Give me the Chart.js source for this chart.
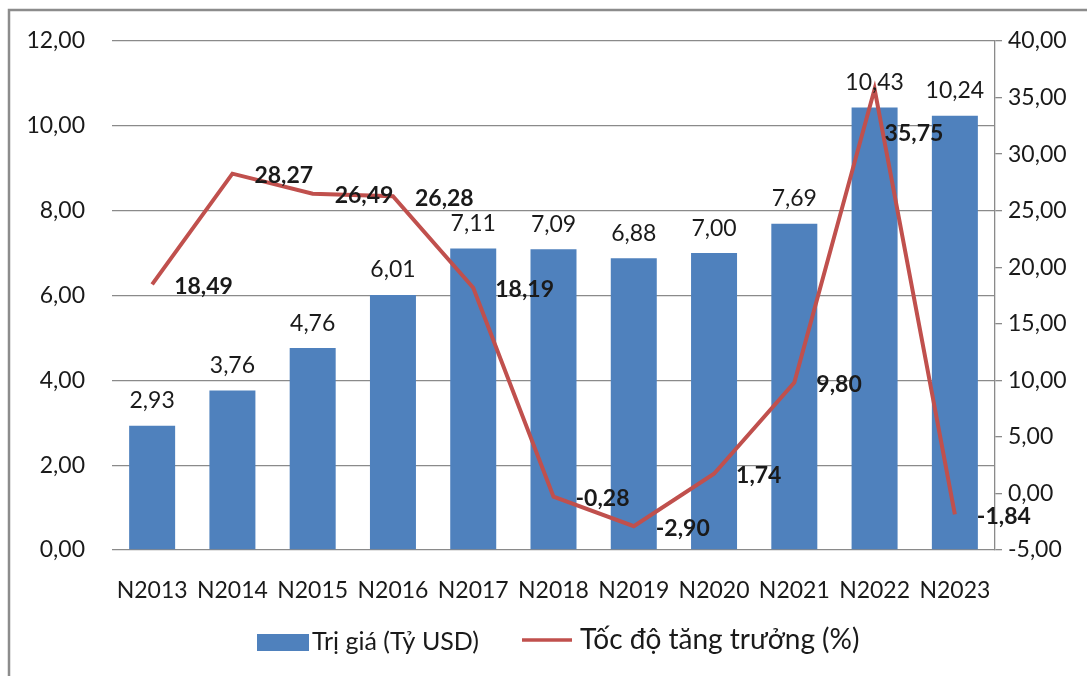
<!DOCTYPE html>
<html>
<head>
<meta charset="utf-8">
<script src="https://cdn.jsdelivr.net/npm/chart.js@4.4.0/dist/chart.umd.min.js"></script>
<style>
  html, body { margin: 0; padding: 0; background: #fff; }
  #wrap { position: relative; width: 1087px; height: 676px; }
</style>
</head>
<body>
<div id="wrap"><canvas id="chart"></canvas></div>
<script>
// data
const years = ['N2013', 'N2014', 'N2015', 'N2016', 'N2017', 'N2018', 'N2019', 'N2020', 'N2021', 'N2022', 'N2023'];
const triGia = [2.93, 3.76, 4.76, 6.01, 7.11, 7.09, 6.88, 7.00, 7.69, 10.43, 10.24];
const tocDo = [18.49, 28.27, 26.49, 26.28, 18.19, -0.28, -2.90, 1.74, 9.80, 35.75, -1.84];
const leftTicks = [0, 2, 4, 6, 8, 10, 12];
const rightTicks = [-5, 0, 5, 10, 15, 20, 25, 30, 35, 40];

const barColor = '#4F81BD';
const lineColor = '#C0504D';
const gridColor = '#8a8a8a';
const textColor = '#1a1a1a';
const fontFamily = 'Lato, "Open Sans", sans-serif';

var fmt = function (v) {
    return v.toFixed(2).replace('.', ',');
};

var labelsPlugin = {
    id: 'valueLabels',
    afterDatasetsDraw: function (chart) {
        const ctx = chart.ctx;
        ctx.save();
        ctx.fillStyle = textColor;

        // bar values, above each bar
        ctx.font = '23px ' + fontFamily;
        ctx.textAlign = 'center';
        ctx.textBaseline = 'middle';
        chart.getDatasetMeta(0).data.forEach((bar, i) => {
            ctx.fillText(fmt(triGia[i]), bar.x, bar.y - 25);
        });

        // growth values, bold, right of each point
        ctx.font = 'bold 23px ' + fontFamily;
        ctx.textAlign = 'left';
        chart.getDatasetMeta(1).data.forEach((pt, i) => {
            let dx = 22, dy = 2;
            if (i === 9) { dx = 10; dy = 45; }
            ctx.fillText(fmt(tocDo[i]), pt.x + dx, pt.y + dy);
        });
        ctx.restore();
    },
    afterDraw: function (chart) {
        const ctx = chart.ctx;
        ctx.save();
        // outer frame
        ctx.strokeStyle = '#8c8c8c';
        ctx.lineWidth = 2.5;
        ctx.strokeRect(9, 10, 1100, 700);

        // legend
        ctx.fillStyle = barColor;
        ctx.fillRect(257, 634, 52, 17);
        ctx.fillStyle = textColor;
        ctx.textBaseline = 'middle';
        ctx.textAlign = 'left';
        ctx.font = '25px ' + fontFamily;
        ctx.fillText('Trị giá (Tỷ USD)', 312, 642);

        ctx.strokeStyle = lineColor;
        ctx.lineWidth = 3.5;
        ctx.beginPath();
        ctx.moveTo(522, 640);
        ctx.lineTo(572, 640);
        ctx.stroke();
        ctx.font = '28px ' + fontFamily;
        ctx.fillText('Tốc độ tăng trưởng (%)', 580, 640);
        ctx.restore();
    }
};

const ctx = document.getElementById('chart').getContext('2d');
const chart = new Chart(ctx, {
    type: 'bar',
    data: {
        labels: years,
        datasets: [{
            type: 'bar',
            label: 'Trị giá (Tỷ USD)',
            data: triGia,
            backgroundColor: barColor,
            categoryPercentage: 1,
            barPercentage: 0.573,
            yAxisID: 'y',
            order: 2
        }, {
            type: 'line',
            label: 'Tốc độ tăng trưởng (%)',
            data: tocDo,
            borderColor: lineColor,
            borderWidth: 4,
            pointRadius: 0,
            tension: 0,
            yAxisID: 'y1',
            order: 1
        }]
    },
    options: {
        responsive: true,
        maintainAspectRatio: false,
        animation: false,
        layout: { padding: { top: 41, left: 0, right: 0, bottom: 60 } },
        plugins: {
            legend: { display: false },
            tooltip: { enabled: false }
        },
        scales: {
            x: {
                grid: { display: false },
                border: { display: false },
                ticks: {
                    color: textColor,
                    font: { family: fontFamily, size: 23 },
                    padding: 19,
                    maxRotation: 0,
                    autoSkip: false
                },
                afterFit: function (s) { s.height = 66; }
            },
            y: {
                position: 'left',
                min: 0,
                max: 12,
                afterBuildTicks: function (s) { s.ticks = leftTicks.map(v => ({ value: v })); },
                grid: { color: gridColor, lineWidth: 1.3, drawTicks: false },
                border: { display: false },
                ticks: {
                    color: textColor,
                    font: { family: fontFamily, size: 23 },
                    padding: 27,
                    callback: function (v) { return fmt(v); }
                },
                afterFit: function (s) { s.width = 112; }
            },
            y1: {
                position: 'right',
                min: -5,
                max: 40,
                afterBuildTicks: function (s) { s.ticks = rightTicks.map(v => ({ value: v })); },
                grid: { drawOnChartArea: false, color: gridColor, lineWidth: 1.3, tickLength: 7 },
                border: { display: true, color: gridColor, width: 1.3 },
                ticks: {
                    color: textColor,
                    font: { family: fontFamily, size: 23 },
                    padding: 6,
                    callback: function (v) { return fmt(v); }
                },
                afterFit: function (s) { s.width = 92; }
            }
        }
    },
    plugins: [labelsPlugin]
});
</script>
</body>
</html>
